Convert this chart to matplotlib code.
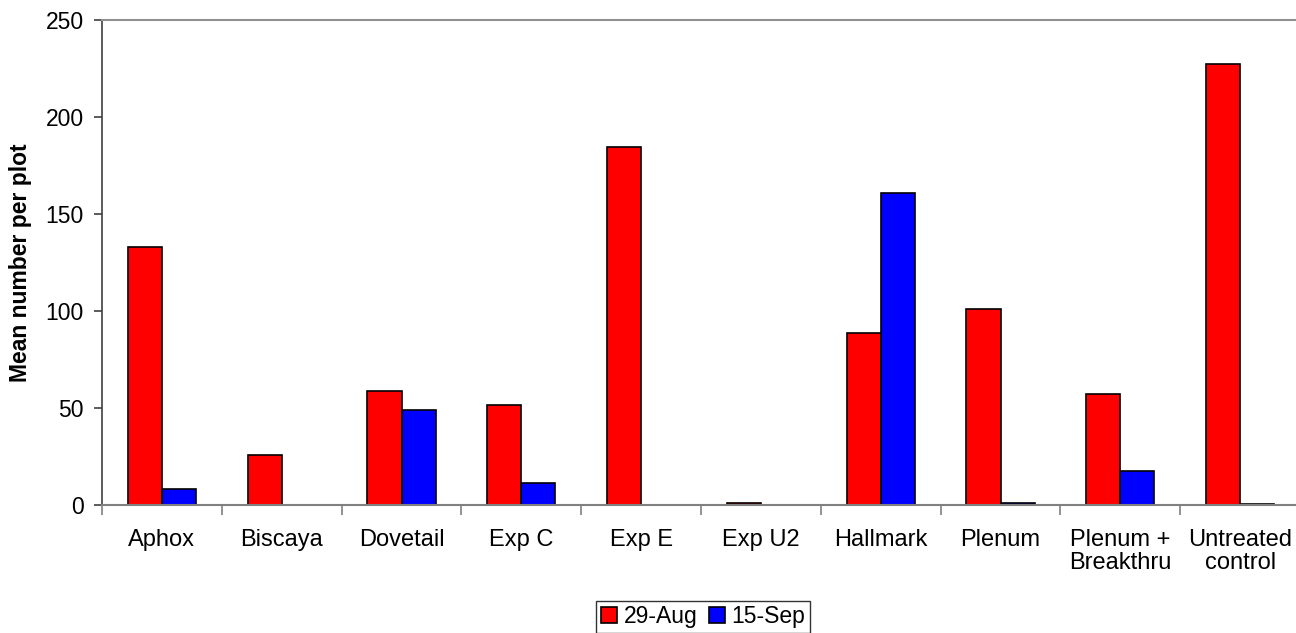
import numpy as np
import matplotlib.pyplot as plt

plt.rcParams['font.family'] = ['Liberation Sans', 'DejaVu Sans']

categories = ['Aphox', 'Biscaya', 'Dovetail', 'Exp C', 'Exp E', 'Exp U2',
              'Hallmark', 'Plenum', 'Plenum +\nBreakthru', 'Untreated\ncontrol']
aug29 = [133, 26, 59, 51.5, 184.5, 1, 88.5, 101, 57, 227.5]
sep15 = [8, 0, 49, 11.5, 0, 0, 161, 1.2, 17.5, 0.6]
series_names = ['29-Aug', '15-Sep']

fig = plt.figure(figsize=(12.96, 6.33), dpi=100)
ax = fig.add_axes([102/1296, 1-505/633, 1198/1296, 485/633])

x = np.arange(len(categories))
w = 0.284
ax.bar(x - w/2, aug29, w, color='#ff0000', edgecolor='black', linewidth=1.2, label=series_names[0])
ax.bar(x + w/2, sep15, w, color='#0000ff', edgecolor='black', linewidth=1.2, label=series_names[1])

ax.set_xlim(-0.5, len(categories) - 0.5)
ax.set_ylim(0, 250)
ax.set_yticks(np.arange(0, 251, 50))
ax.set_xticks(np.arange(len(categories) + 1) - 0.5)
ax.set_xticklabels([])
ax.set_xticks(x, minor=True)
ax.set_xticklabels(categories, minor=True, fontsize=17, linespacing=1.1)
ax.tick_params(axis='x', which='minor', length=0, pad=17)
ax.tick_params(axis='x', which='major', length=7, color='#808080', width=1.2)
ax.tick_params(axis='y', length=6, labelsize=16.5, color='#404040', width=1.2, pad=7)

ax.spines['right'].set_visible(False)
ax.spines['top'].set_color('#909090')
ax.spines['top'].set_linewidth(1.5)
ax.spines['bottom'].set_color('#808080')
ax.spines['bottom'].set_linewidth(1.5)
ax.spines['left'].set_color('#404040')
ax.spines['left'].set_linewidth(1.2)

ax.set_ylabel('Mean number per plot', fontsize=16.5, fontweight='bold', labelpad=10)

fig.legend(loc='lower center', bbox_to_anchor=(703/1296, 0.0), ncol=2, fontsize=16.5,
           frameon=True, fancybox=False, edgecolor='black', handlelength=0.7, handleheight=0.7,
           handletextpad=0.3, columnspacing=0.5, borderpad=0.2, borderaxespad=0.0)

fig.savefig('out.png', dpi=100)
